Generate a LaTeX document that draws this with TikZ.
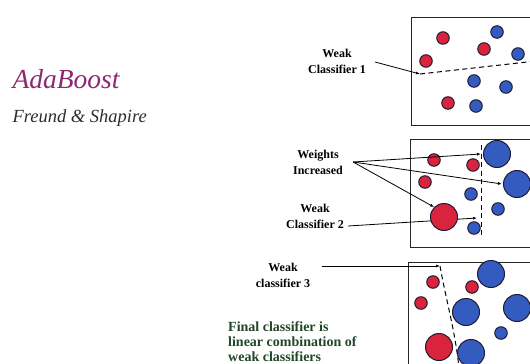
\documentclass[tikz,border=0pt]{standalone}
\usepackage{fontspec}
\setmainfont{Liberation Serif}
\usetikzlibrary{arrows.meta,positioning}
\definecolor{inkplum}{RGB}{140,40,110}
\definecolor{inkgrey}{RGB}{45,45,45}
\definecolor{inkgreen}{RGB}{32,70,40}
\definecolor{ptred}{RGB}{218,36,62}
\definecolor{ptblue}{RGB}{52,92,192}
\definecolor{ptedge}{RGB}{30,28,50}

\begin{document}
\begin{tikzpicture}[x=1pt,y=-1pt,>={Latex[length=4pt,width=3pt]},
  lbl/.style={font=\fontsize{12}{16}\selectfont\bfseries,align=center,inner sep=0pt},
  frame/.style={draw=black!85,line width=1pt},
  cutline/.style={line width=1pt,dash pattern=on 5pt off 3.5pt},
  redpt/.style={circle,draw=ptedge,fill=ptred,line width=1pt,inner sep=0pt,minimum size=12.5pt},
  bluept/.style={redpt,fill=ptblue},
  big/.style={minimum size=27pt}]
  \useasboundingbox (0,0) rectangle (530,364);
  \clip (0,0) rectangle (530,364);
  % title
  \node[font=\fontsize{27.5}{30}\selectfont\itshape,text=inkplum,anchor=west] (title) at (9,79) {AdaBoost};
  \node[font=\fontsize{18.5}{20}\selectfont\itshape,text=inkgrey,anchor=west] (authors) at (9,118) {Freund \& Shapire};
  % frames
  \draw[frame] (411,17) rectangle (545,125);
  \draw[frame] (410,139) rectangle (545,247);
  \draw[frame] (408,262) rectangle (545,380);
  % round 1
  \node[lbl] (wk1) at (337,61) {Weak\\Classifier 1};
  \coordinate (cut1) at (420,74);
  \draw[cutline] (cut1) -- (545,60);
  \draw[->,line width=.8pt] ([xshift=9pt,yshift=-1pt]wk1.east) -- (cut1);
  \foreach \n/\x/\y in {11/443/38,12/484/49,13/426/61,14/448/103}
    \node[redpt] (r\n) at (\x,\y) {};
  \foreach \n/\x/\y in {11/497/32,12/518/54,13/474/81,14/506/87,15/476/106}
    \node[bluept] (b\n) at (\x,\y) {};
  % round 2
  \node[lbl] (wi) at (318,162) {Weights\\Increased};
  \node[lbl] (wk2) at (315,216) {Weak\\Classifier 2};
  \coordinate (cut2) at (477,218);
  \draw[cutline] (481,145) -- (481,238);
  \draw[->,line width=.8pt] ([xshift=4pt,yshift=-10pt]wk2.east) -- (cut2);
  \foreach \n/\x/\y in {21/434/160,22/473/165,23/425/182}
    \node[redpt] (r\n) at (\x,\y) {};
  \node[redpt,big] (r24) at (444,217) {};
  \foreach \n/\x/\y in {22/471/194,24/498/209,25/474/228}
    \node[bluept] (b\n) at (\x,\y) {};
  \node[bluept,big] (b21) at (497,154) {};
  \node[bluept,big] (b23) at (517,184) {};
  \draw[->,line width=.8pt] ([xshift=10pt]wi.east) -- ([xshift=-2pt]b21.west);
  \draw[->,line width=.8pt] ([xshift=10pt]wi.east) -- ([xshift=-1pt]b23.west);
  \draw[->,line width=.8pt] ([xshift=10pt]wi.east) -- (r24.north west);
  % round 3
  \node[lbl] (wk3) at (283,275) {Weak\\classifier 3};
  \coordinate (cut3) at (440,266);
  \draw[->,line width=.8pt] ([xshift=12pt,yshift=9pt]wk3.east) -- (cut3);
  \draw[cutline] (cut3) .. controls (446,300) and (455,330) .. (459,368);
  \foreach \n/\x/\y in {31/433/282,32/472/287,33/421/303}
    \node[redpt] (r\n) at (\x,\y) {};
  \node[redpt,big] (r34) at (439,347) {};
  \node[bluept] (b34) at (501,333) {};
  \foreach \n/\x/\y in {31/491/274,32/466/312,33/517/308,35/471/353}
    \node[bluept,big] (b\n) at (\x,\y) {};
  \node[font=\fontsize{14}{15}\selectfont\bfseries,text=inkgreen,align=left,anchor=north west,inner sep=0pt]
    (final) at (228,321) {Final classifier is\\linear combination of\\weak classifiers};
\end{tikzpicture}
\end{document}
